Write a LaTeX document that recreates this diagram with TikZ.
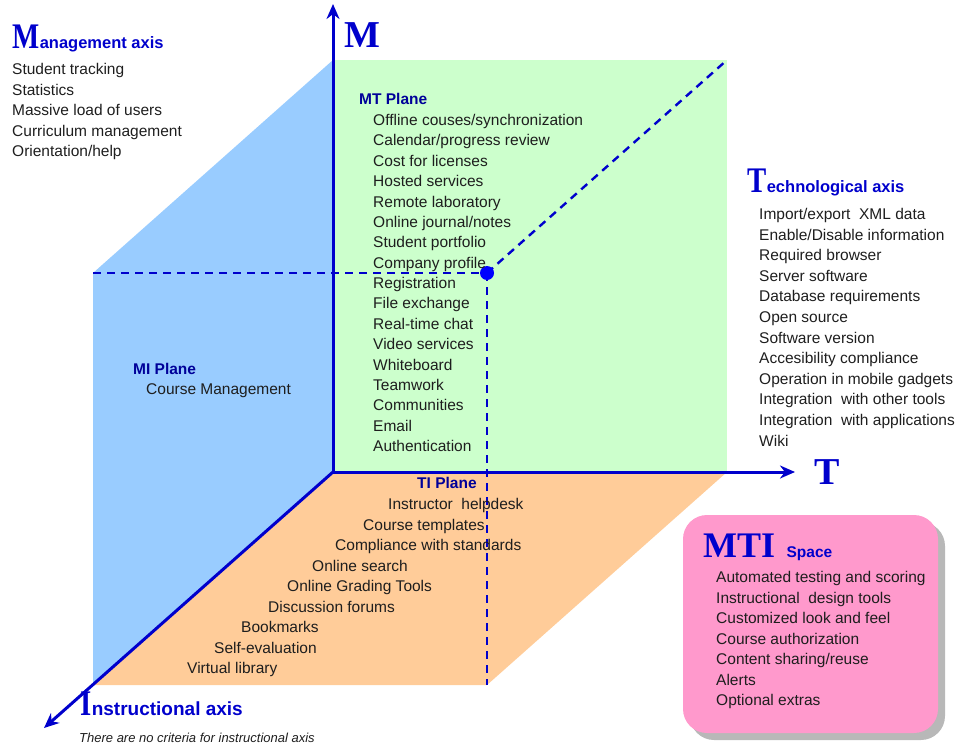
\documentclass[tikz,border=0pt]{standalone}
\usepackage{fontspec}
\setmainfont{Liberation Sans}
\newfontfamily\capfont{Liberation Serif}
\newfontfamily\capnarrow[FakeStretch=0.8]{Liberation Serif}
\usetikzlibrary{arrows.meta,positioning,shadows}

\definecolor{axisblue}{RGB}{0,0,204}
\definecolor{labelblue}{RGB}{0,0,153}
\definecolor{miblue}{RGB}{153,204,255}
\definecolor{mtgreen}{RGB}{204,255,204}
\definecolor{tiorange}{RGB}{255,204,153}
\definecolor{mtipink}{RGB}{255,153,204}
\definecolor{textdark}{RGB}{30,30,30}

\begin{document}
\begin{tikzpicture}[x=1pt, y=-1pt, >=Stealth,
    axis/.style={draw=axisblue, line width=3pt, -{Stealth[length=15pt, width=13pt]}},
    guide/.style={draw=axisblue, line width=2.4pt, dash pattern=on 8pt off 6pt},
    item/.style={anchor=base west, inner sep=0pt, text=textdark, font=\fontsize{15.5}{18}\selectfont},
    planelabel/.style={anchor=base west, inner sep=0pt, text=labelblue, font=\bfseries\fontsize{15.5}{18}\selectfont},
    initial/.style={anchor=base west, inner sep=0pt, text=axisblue, font=\capnarrow\bfseries\fontsize{36}{40}\selectfont},
    axislabel/.style={inner sep=0pt, text=axisblue, font=\capfont\bfseries\fontsize{38}{40}\selectfont},
    axistitle/.style={anchor=base west, inner sep=0pt, text=axisblue, font=\bfseries\fontsize{16.5}{18}\selectfont}]

    % Page frame
    \useasboundingbox (0,0) rectangle (960,754);

    % Corners of the cube
    \coordinate (O) at (333,472);
    \coordinate (Mc) at (333,60);
    \coordinate (Tc) at (727,472);
    \coordinate (Ic) at (93,685);
    \coordinate (MTc) at (727,60);
    \coordinate (MIc) at (93,273);
    \coordinate (TIc) at (487,685);
    \coordinate (MTIc) at (487,273);

    % Axis tips
    \coordinate (Mtip) at (333,4);
    \coordinate (Ttip) at (795,472);
    \coordinate (Itip) at (44,728);

    % The three planes
    \fill[miblue] (Mc) -- (O) -- (Ic) -- (MIc) -- cycle;
    \fill[mtgreen] (O) -- (Tc) -- (MTc) -- (Mc) -- cycle;
    \fill[tiorange] (O) -- (Tc) -- (TIc) -- (Ic) -- cycle;

    % Hidden edges and the far corner
    \draw[guide] (MIc) -- (MTIc);
    \draw[guide] (MTIc) -- (MTc);
    \draw[guide] (MTIc) -- (TIc);
    \fill[blue] (MTIc) circle (7pt);

    % Axes
    \draw[axis] (O) -- (Mtip);
    \draw[axis] (O) -- (Ttip);
    \draw[axis] (O) -- (Itip);

    % Axis letters
    \node[axislabel, anchor=base west] (Mlabel) at (344,48) {M};
    \node[axislabel, anchor=west, right=19pt of Ttip] (Tlabel) {T};

    % Management axis
    \node[initial] (mgmtM) at (12,49) {M};
    \node[axistitle] (mgmttitle) at (mgmtM.base east) {anagement axis};
    \foreach \txt [count=\i from 0] in {Student tracking, Statistics,
        Massive load of users, Curriculum management, Orientation/help}
        \node[item] (mgmt\i) at (12,{75+20.4*\i}) {\txt};

    % Technological axis
    \node[initial] (techT) at (747,193) {T};
    \node[axistitle] (techtitle) at (techT.base east) {echnological axis};
    \foreach \txt [count=\i from 0] in {Import/export\ \ XML data,
        Enable/Disable information, Required browser, Server software,
        Database requirements, Open source, Software version,
        Accesibility compliance, Operation in mobile gadgets,
        Integration\ \ with other tools, Integration\ \ with applications, Wiki}
        \node[item] (tech\i) at (759,{219.5+20.6*\i}) {\txt};

    % MT plane
    \node[planelabel] (mtlabel) at (359,105) {MT Plane};
    \foreach \txt [count=\i from 0] in {Offline couses/synchronization,
        Calendar/progress review, Cost for licenses, Hosted services,
        Remote laboratory, Online journal/notes, Student portfolio,
        Company profile, Registration, File exchange, Real-time chat,
        Video services, Whiteboard, Teamwork, Communities, Email, Authentication}
        \node[item] (mt\i) at (373,{125.5+20.375*\i}) {\txt};

    % MI plane
    \node[planelabel] (milabel) at (133,374) {MI Plane};
    \node[item] (mi0) at (146,394.5) {Course Management};

    % TI plane
    \node[planelabel] (tilabel) at (417,488.5) {TI Plane};
    \foreach \x/\txt [count=\i from 0] in {388/Instructor\ \ helpdesk,
        363/Course templates, 335/Compliance with standards,
        312/Online search, 287/Online Grading Tools,
        268/Discussion forums, 241/Bookmarks, 214/Self-evaluation,
        187/Virtual library}
        \node[item] (ti\i) at (\x,{509.5+20.5*\i}) {\txt};

    % MTI space box
    \node[fill=mtipink, rounded corners=24pt, inner sep=0pt,
        minimum width=255pt, minimum height=218pt,
        drop shadow={shadow xshift=7pt, shadow yshift=-7pt, fill=black!28, opacity=1}]
        (mtibox) at (810.5,624) {};
    \node[axislabel, anchor=base west, font=\capfont\bfseries\fontsize{36}{40}\selectfont]
        (mtiword) at (703,557) {MTI};
    \node[axistitle, font=\bfseries\fontsize{15.5}{18}\selectfont, xshift=11pt]
        (spaceword) at (mtiword.base east) {Space};
    \foreach \txt [count=\i from 0] in {Automated testing and scoring,
        Instructional\ \ design tools, Customized look and feel,
        Course authorization, Content sharing/reuse, Alerts, Optional extras}
        \node[item] (mti\i) at (716,{582.5+20.5*\i}) {\txt};

    % Instructional axis
    \node[initial] (instrI) at (80,715) {I};
    \node[axistitle, font=\bfseries\fontsize{19}{20}\selectfont] (instrtitle)
        at (instrI.base east) {nstructional axis};
    \node[item, font=\itshape\fontsize{13}{14}\selectfont] (instrnote)
        at (79,742) {There are no criteria for instructional axis};

\end{tikzpicture}
\end{document}
